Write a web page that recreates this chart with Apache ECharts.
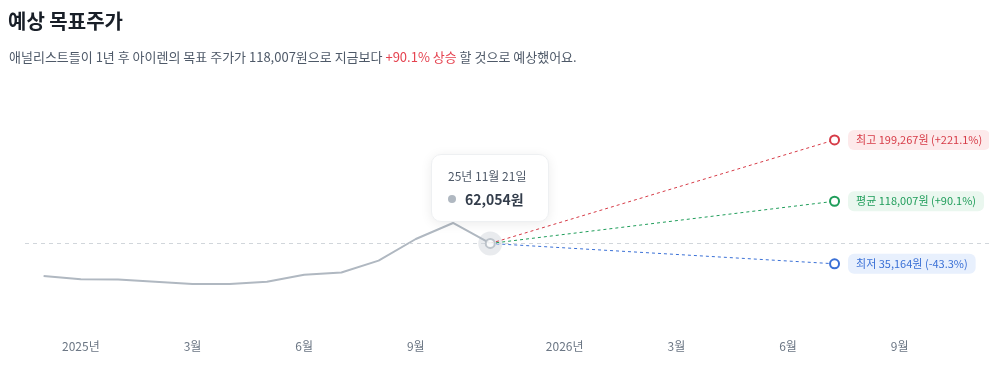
<!DOCTYPE html>
<html>
<head>
<meta charset="utf-8">
<script src="https://cdn.jsdelivr.net/npm/echarts@6/dist/echarts.min.js"></script>
<style>
  html, body { margin: 0; padding: 0; background: #fff; }
  #chart { width: 989px; height: 368px; }
</style>
</head>
<body>
<div id="chart"></div>
<script>
// 지난 가격 (월 단위 위치)
const histX = [0, 1, 2, 3, 4, 5, 6, 7, 8, 9, 10, 11, 12];
const histPrice = [19000, 14600, 14400, 11400, 8400, 8400, 11400, 20700, 23600, 39300, 68000, 89200, 62054];
const currentDate = "25년 11월 21일";
const currentX = 12;
const currentPrice = 62054;

// 1년 후 목표주가
const targetX = 21.25;
const targetNames = ["최고", "평균", "최저"];
const targetPrices = [199267, 118007, 35164];
const targetChanges = ["+221.1%", "+90.1%", "-43.3%"];

// x축 라벨
const tickPositions = [1, 4, 7, 10, 14, 17, 20, 23];
const tickLabels = ["2025년", "3월", "6월", "9월", "2026년", "3월", "6월", "9월"];

const FONT = "Noto Sans CJK KR";
const lineColors = ["#d63b47", "#1f9d5a", "#3a70d6"];
const labelBg = ["#fdeaeb", "#eaf7ef", "#e8f0fd"];

function won(v) {
  return String(v).replace(/\B(?=(\d{3})+(?!\d))/g, ",") + "원";
}

var myChart = echarts.init(document.getElementById("chart"));

var targetSeries = targetPrices.map(function (p, i) {
  return {
    type: "line",
    z: 3,
    symbol: "none",
    lineStyle: { color: lineColors[i], width: 1, type: [3, 3] },
    data: [
      [currentX, currentPrice],
      {
        value: [targetX, p],
        symbol: "circle",
        symbolSize: 9,
        itemStyle: { color: "#fff", borderColor: lineColors[i], borderWidth: 2 },
        label: {
          show: true,
          position: "right",
          distance: 8,
          formatter: targetNames[i] + " " + won(p) + " (" + targetChanges[i] + ")",
          color: lineColors[i],
          fontSize: 11,
          fontFamily: FONT,
          backgroundColor: labelBg[i],
          borderRadius: 6,
          padding: [5, 8, 4, 8],
        },
      },
    ],
    silent: true,
    tooltip: { show: false },
  };
});

var avgIdx = 1;
var option = {
  animation: false,
  textStyle: { fontFamily: FONT },
  title: [
    {
      text: "예상 목표주가",
      left: 3,
      top: 6,
      textStyle: { fontSize: 20, fontWeight: "bold", color: "#191f28", fontFamily: FONT },
    },
    {
      text:
        "{a|애널리스트들이 1년 후 아이렌의 목표 주가가 " + won(targetPrices[avgIdx]) +
        "으로 지금보다 }{b|" + targetChanges[avgIdx] + " 상승}{a| 할 것으로 예상했어요.}",
      left: 4,
      top: 46,
      textStyle: {
        fontWeight: "normal",
        rich: {
          a: { fontSize: 13, fontWeight: "normal", color: "#4e5968", fontFamily: FONT },
          b: { fontSize: 13, fontWeight: "normal", color: "#e5424f", fontFamily: FONT },
        },
      },
    },
  ],
  grid: { left: 25, right: 0, top: 124.3, bottom: 77.7 },
  tooltip: {
    trigger: "item",
    triggerOn: "none",
    alwaysShowContent: true,
    transitionDuration: 0,
    padding: [12, 16],
    backgroundColor: "#fff",
    borderColor: "#eef0f2",
    borderWidth: 1,
    extraCssText: "box-shadow: 0 2px 12px rgba(0,0,0,0.08); border-radius: 10px; width: 84px;",
    position: function () {
      var pt = myChart.convertToPixel({ seriesIndex: 0 }, [currentX, currentPrice]);
      return [pt[0] - 59, pt[1] - 89];
    },
    formatter: function () {
      return (
        '<div style="font-family:' + FONT + ';font-size:12px;color:#4e5968;line-height:18px;margin-bottom:4px;white-space:nowrap">' +
        currentDate + "</div>" +
        '<div style="display:flex;align-items:center;white-space:nowrap">' +
        '<span style="display:inline-block;width:8px;height:8px;border-radius:50%;background:#b0b8c1;margin-right:9px"></span>' +
        '<span style="font-family:' + FONT + ';font-size:14px;font-weight:bold;color:#333d4b;line-height:20px">' +
        won(currentPrice) + "</span></div>"
      );
    },
  },
  xAxis: {
    type: "value",
    min: -0.5,
    max: 25.4,
    interval: 0.5,
    axisLine: { show: false },
    axisTick: { show: false },
    splitLine: { show: false },
    axisLabel: {
      margin: 50,
      color: "#6b7684",
      fontSize: 12,
      fontFamily: FONT,
      showMaxLabel: false,
      formatter: function (v) {
        var idx = tickPositions.indexOf(v);
        return idx >= 0 ? tickLabels[idx] : "";
      },
    },
  },
  yAxis: {
    type: "value",
    min: 0,
    max: 220000,
    show: false,
    splitLine: { show: false },
  },
  series: [
    {
      // 현재가 강조 원
      type: "scatter",
      z: 1,
      symbolSize: 24,
      itemStyle: { color: "rgba(176,184,193,0.35)" },
      data: [[currentX, currentPrice]],
      silent: true,
    },
    {
      type: "line",
      z: 2,
      symbol: "none",
      lineStyle: { color: "#b0b8c1", width: 2 },
      data: histX.map(function (x, i) {
        return [x, histPrice[i]];
      }),
      markLine: {
        silent: true,
        symbol: "none",
        label: { show: false },
        lineStyle: { color: "#d1d6db", width: 1, type: [4, 4] },
        data: [{ yAxis: currentPrice }],
      },
    },
  ]
    .concat(targetSeries)
    .concat([
      {
        type: "scatter",
        z: 5,
        symbolSize: 9,
        itemStyle: { color: "#fff", borderColor: "#b0b8c1", borderWidth: 2 },
        data: [[currentX, currentPrice]],
      },
    ]),
};

myChart.setOption(option);
myChart.dispatchAction({ type: "showTip", seriesIndex: 5, dataIndex: 0 });
window.addEventListener("resize", () => {
  myChart.resize();
});
</script>
</body>
</html>
